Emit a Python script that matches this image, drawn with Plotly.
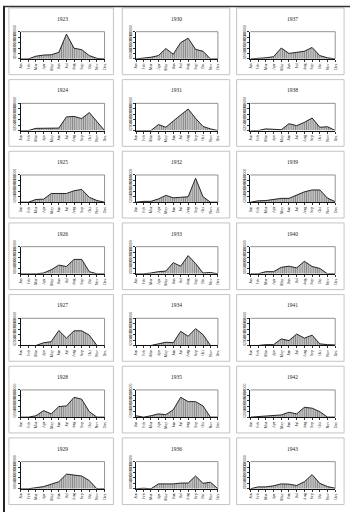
import plotly.graph_objects as go

months = ["Jan", "Feb", "Mar", "Apr", "May", "Jun", "Jul", "Aug", "Sep", "Oct", "Nov", "Dec"]

v1923 = [0, 0, 10, 14, 15, 24, 91, 39, 34, 12, 2, 0]
v1924 = [0, 0, 8, 9, 9, 9, 50, 52, 44, 66, 33, 0]
v1925 = [0, 0, 10, 11, 32, 33, 32, 42, 47, 18, 6, 0]
v1926 = [0, 0, 0, 3, 15, 32, 27, 53, 53, 8, 0, 0]
v1927 = [0, 0, 0, 10, 14, 55, 27, 54, 54, 38, 0, 0]
v1928 = [0, 0, 5, 24, 12, 39, 41, 73, 66, 20, 0, 0]
v1929 = [0, 0, 4, 8, 17, 26, 54, 50, 47, 30, 0, 0]
v1930 = [0, 2, 6, 12, 38, 17, 60, 76, 35, 28, 0, 0]
v1931 = [0, 0, 0, 22, 12, 35, 57, 79, 45, 15, 6, 0]
v1932 = [0, 3, 3, 12, 25, 16, 18, 20, 88, 20, 0, 0]
v1933 = [0, 0, 3, 8, 10, 41, 28, 67, 38, 3, 5, 0]
v1934 = [0, 0, 0, 6, 12, 10, 52, 34, 62, 40, 0, 0]
v1935 = [5, 0, 5, 12, 9, 27, 73, 57, 57, 41, 0, 0]
v1936 = [0, 2, 0, 18, 18, 18, 21, 21, 47, 20, 24, 0]
v1937 = [0, 1, 4, 8, 40, 20, 24, 28, 42, 12, 4, 0]
v1938 = [0, 0, 6, 5, 3, 25, 18, 30, 46, 12, 14, 0]
v1939 = [0, 5, 6, 10, 14, 14, 25, 38, 45, 45, 15, 2]
v1940 = [0, 0, 8, 8, 24, 28, 22, 46, 27, 20, 0, 0]
v1941 = [0, 0, 3, 3, 24, 18, 42, 27, 38, 6, 3, 2]
v1942 = [0, 2, 4, 5, 8, 18, 12, 36, 33, 20, 0, 0]
v1943 = [0, 7, 7, 11, 18, 17, 12, 26, 52, 20, 8, 2]

years = [
    ["1923", "1924", "1925", "1926", "1927", "1928", "1929"],
    ["1930", "1931", "1932", "1933", "1934", "1935", "1936"],
    ["1937", "1938", "1939", "1940", "1941", "1942", "1943"],
]
series = {
    "1923": v1923, "1924": v1924, "1925": v1925, "1926": v1926, "1927": v1927,
    "1928": v1928, "1929": v1929, "1930": v1930, "1931": v1931, "1932": v1932,
    "1933": v1933, "1934": v1934, "1935": v1935, "1936": v1936, "1937": v1937,
    "1938": v1938, "1939": v1939, "1940": v1940, "1941": v1941, "1942": v1942,
    "1943": v1943,
}
y_ticks = [0, 20, 40, 60, 80, 100]
y_tick_text = ["0", "20000", "40000", "60000", "80000", "100000"]

W, H = 352, 512
col_plot_x = [(18, 103), (135, 218), (251, 337)]
col_box_x = [(6, 112), (121, 230), (237, 346)]
row_top0 = 26
row_pitch = 72.5
plot_h = 27.5

def px(x):
    return x / W

def py(y):
    return 1 - y / H

fig = go.Figure()
shapes = []
annotations = []
layout_axes = {}
idx = 0
for c in range(3):
    for r in range(7):
        idx += 1
        yr = years[c][r]
        x0, x1 = col_plot_x[c]
        top = row_top0 + row_pitch * r
        bot = top + plot_h
        xa = "x" if idx == 1 else f"x{idx}"
        ya = "y" if idx == 1 else f"y{idx}"
        fig.add_trace(go.Scatter(
            x=months, y=series[yr], mode="lines", fill="tozeroy",
            line=dict(color="#111111", width=0.9),
            fillcolor="#bcbcbc",
            fillpattern=dict(shape="|", fgcolor="#444444", bgcolor="#c6c6c6",
                             size=2.2, solidity=0.4),
            xaxis=xa, yaxis=ya, showlegend=False, hoverinfo="skip",
        ))
        xkey = "xaxis" if idx == 1 else f"xaxis{idx}"
        ykey = "yaxis" if idx == 1 else f"yaxis{idx}"
        layout_axes[xkey] = dict(
            domain=[px(x0), px(x1)], anchor=ya, type="category",
            range=[0, 11], tickangle=-90,
            tickfont=dict(size=4, family="Liberation Serif", color="#111"),
            showgrid=False, showline=True, linecolor="#111", linewidth=1,
            ticks="outside", ticklen=2, tickwidth=0.5, tickcolor="#333",
            mirror=False, zeroline=False, fixedrange=True,
        )
        layout_axes[ykey] = dict(
            domain=[py(bot), py(top)], anchor=xa, range=[0, 100],
            tickvals=y_ticks, ticktext=y_tick_text, tickangle=-90,
            tickfont=dict(size=3.8, family="Liberation Serif", color="#111"),
            showgrid=False, showline=True, linecolor="#111", linewidth=1,
            ticks="outside", ticklen=2, tickwidth=0.5, tickcolor="#333",
            zeroline=False, fixedrange=True,
        )
        # plot frame: top and right edges
        shapes.append(dict(type="path", xref="paper", yref="paper",
                           path=f"M {px(x0)} {py(top)} L {px(x1)} {py(top)} L {px(x1)} {py(bot)}",
                           line=dict(color="#777777", width=0.8)))
        # panel box
        bx0, bx1 = col_box_x[c]
        shapes.append(dict(type="rect", xref="paper", yref="paper",
                           x0=px(bx0), x1=px(bx1), y0=py(bot + 16), y1=py(top - 24),
                           line=dict(color="#c4c4c4", width=1), fillcolor="rgba(0,0,0,0)",
                           layer="below"))
        annotations.append(dict(text=yr, xref="paper", yref="paper",
                                x=px((x0 + x1) / 2), y=py(top - 13),
                                showarrow=False, xanchor="center", yanchor="middle",
                                font=dict(size=5.5, family="Liberation Serif", color="#222")))

# page edges (scan borders)
shapes.append(dict(type="line", xref="paper", yref="paper", x0=px(1), x1=px(1), y0=0, y1=1,
                   line=dict(color="#222222", width=2)))
shapes.append(dict(type="line", xref="paper", yref="paper", x0=0, x1=1, y0=py(0.5), y1=py(0.5),
                   line=dict(color="#333333", width=1.5)))

fig.update_layout(
    width=W, height=H, margin=dict(l=0, r=0, t=0, b=0),
    paper_bgcolor="white", plot_bgcolor="white",
    shapes=shapes, annotations=annotations, showlegend=False,
    **layout_axes,
)
fig.write_html("out.html")
